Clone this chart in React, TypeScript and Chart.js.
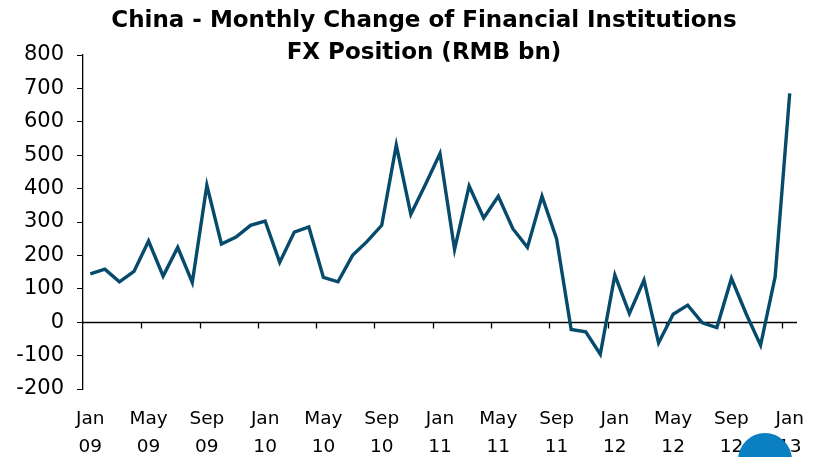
import React, { useEffect, useRef } from "react";
import { Chart, registerables } from "chart.js";

Chart.register(...registerables);

const categories: string[] = [
  "Jan 09", "Feb 09", "Mar 09", "Apr 09", "May 09", "Jun 09", "Jul 09", "Aug 09", "Sep 09", "Oct 09", "Nov 09", "Dec 09",
  "Jan 10", "Feb 10", "Mar 10", "Apr 10", "May 10", "Jun 10", "Jul 10", "Aug 10", "Sep 10", "Oct 10", "Nov 10", "Dec 10",
  "Jan 11", "Feb 11", "Mar 11", "Apr 11", "May 11", "Jun 11", "Jul 11", "Aug 11", "Sep 11", "Oct 11", "Nov 11", "Dec 11",
  "Jan 12", "Feb 12", "Mar 12", "Apr 12", "May 12", "Jun 12", "Jul 12", "Aug 12", "Sep 12", "Oct 12", "Nov 12", "Dec 12",
  "Jan 13",
];

const fxChange: number[] = [
  145, 159, 121, 152, 243, 138, 224, 119, 410, 234, 255, 290,
  303, 179, 270, 285, 134, 121, 200, 242, 290, 530, 323, 412,
  505, 218, 408, 312, 377, 280, 224, 377, 250, -22, -29, -96,
  141, 26, 126, -62, 24, 51, -2, -16, 131, 26, -69, 136,
  685,
];

const yMin = -200;
const yMax = 800;
const yStep = 100;
const labelEvery = 4;

const titleLines: string[] = [
  "China - Monthly Change of Financial Institutions",
  "FX Position (RMB bn)",
];

export default function App() {
  const ref = useRef<HTMLCanvasElement>(null);

  useEffect(() => {
    if (!ref.current) return;

    const zeroAxis = {
      id: "zeroAxis",
      beforeDatasetsDraw(chart: any) {
        const { ctx, chartArea, scales } = chart;
        const y0 = Math.round(scales.y.getPixelForValue(0)) + 0.5;
        ctx.save();
        ctx.strokeStyle = "#000";
        ctx.lineWidth = 1.3;
        ctx.beginPath();
        ctx.moveTo(chartArea.left, y0);
        ctx.lineTo(chartArea.right, y0);
        for (let i = labelEvery - 1; i < categories.length; i += labelEvery) {
          const a = scales.x.getPixelForValue(i);
          const b = scales.x.getPixelForValue(i + 1);
          const x = Math.round((a + b) / 2) + 0.5;
          ctx.moveTo(x, y0);
          ctx.lineTo(x, y0 + 6);
        }
        ctx.stroke();
        ctx.restore();
      },
    };

    const titlePlugin = {
      id: "twoLineTitle",
      afterDraw(chart: any) {
        const { ctx } = chart;
        ctx.save();
        ctx.font = "bold 23px 'DejaVu Sans'";
        ctx.fillStyle = "#000";
        ctx.textAlign = "center";
        ctx.textBaseline = "alphabetic";
        ctx.fillText(titleLines[0], 424, 27);
        ctx.fillText(titleLines[1], 424, 59);
        ctx.restore();
      },
    };

    const chart = new Chart(ref.current, {
      type: "line",
      data: {
        labels: categories,
        datasets: [
          {
            data: fxChange,
            borderColor: "#064a6c",
            borderWidth: 3.4,
            pointRadius: 0,
            tension: 0,
            fill: false,
          },
        ],
      },
      options: {
        animation: false,
        responsive: false,
        devicePixelRatio: 1,
        layout: { padding: { top: 55, left: 0, right: 26, bottom: 0 } },
        plugins: {
          legend: { display: false },
          tooltip: { enabled: false },
          title: { display: false },
        },
        scales: {
          x: {
            type: "category",
            offset: true,
            grid: { display: false, drawTicks: false },
            border: { display: false },
            afterFit(scale: any) {
              scale.height = 68;
            },
            ticks: {
              autoSkip: false,
              maxRotation: 0,
              minRotation: 0,
              padding: 16,
              color: "#000",
              font: { family: "'DejaVu Sans'", size: 18.5, lineHeight: 1.52 },
              callback: (_v: any, i: number) =>
                i % labelEvery === 0 ? categories[i].split(" ") : "",
            },
          },
          y: {
            min: yMin,
            max: yMax,
            afterFit(scale: any) {
              scale.width = 83;
            },
            ticks: {
              stepSize: yStep,
              padding: 13,
              color: "#000",
              font: { family: "'DejaVu Sans'", size: 21 },
            },
            grid: {
              drawOnChartArea: false,
              drawTicks: true,
              tickLength: 6,
              color: "#000",
              lineWidth: 1,
            },
            border: { display: true, color: "#000", width: 1.3 },
          },
        },
      },
      plugins: [zeroAxis, titlePlugin],
    });

    return () => chart.destroy();
  }, []);

  return (
    <div style={{ position: "fixed", left: 0, top: 0, width: 823, height: 457, background: "#fff", overflow: "hidden" }}>
      <canvas ref={ref} width={823} height={457} style={{ display: "block" }} />
      <div
        style={{
          position: "absolute",
          left: 738,
          top: 433,
          width: 54,
          height: 54,
          borderRadius: "50%",
          background: "#0a7fc1",
        }}
      />
    </div>
  );
}
